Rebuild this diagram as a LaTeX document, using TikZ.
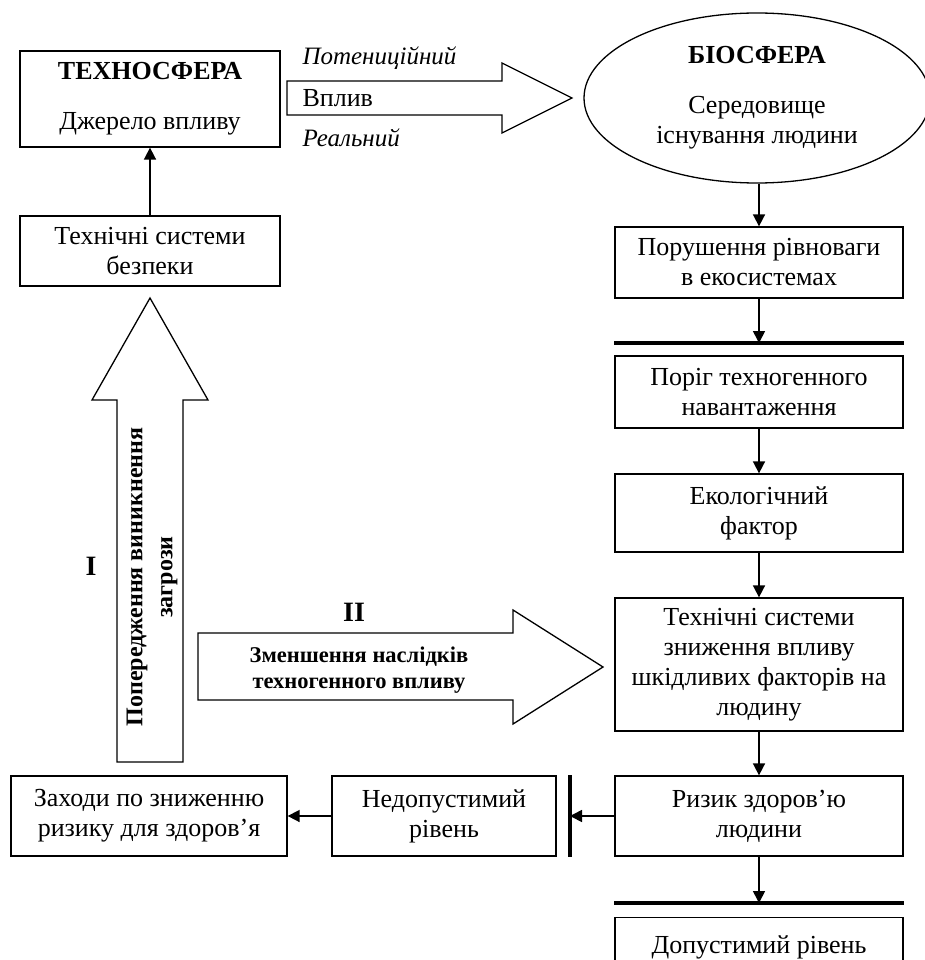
\documentclass[tikz,border=0pt]{standalone}
\usepackage{fontspec}
\setmainfont{Liberation Serif}
\usetikzlibrary{arrows.meta,shapes.geometric,positioning}

\begin{document}
\begin{tikzpicture}[x=1pt,y=-1pt,
  every node/.style={font=\fontsize{26}{30}\selectfont},
  blok/.style={draw,line width=1.3pt,align=center,inner sep=0pt,minimum width=#1},
  blok/.default=288pt,
  arr/.style={line width=1.7pt,-{Triangle[length=12pt,width=12pt]}},
  porog/.style={line width=4pt},
  strilka/.style={draw,line width=1.3pt,fill=white}]
\useasboundingbox (0,0) rectangle (925,960);

% left column
\node[blok=260pt,minimum height=96pt] (texno) at (150,99) {{\bfseries ТЕХНОСФЕРА}\\[20pt]Джерело впливу};
\node[blok=260pt,minimum height=70pt] (bezpeka) at (150,251) {Технічні системи\\безпеки};
\draw[arr] (bezpeka) -- (texno);

% right column
\node[draw,ellipse,line width=1.3pt,inner sep=0pt,align=center,minimum width=346pt,minimum height=170pt] (bio) at (757,98) {{\bfseries БІОСФЕРА}\\[20pt]Середовище\\існування людини};
\node[blok,minimum height=71pt] (porush) at (759,262.5) {Порушення рівноваги\\в екосистемах};
\node[blok,minimum height=72pt] (porig) at (759,392) {Поріг техногенного\\навантаження};
\node[blok,minimum height=78pt] (ekol) at (759,513) {Екологічний\\фактор};
\node[blok,minimum height=133pt] (znyzh) at (759,664.5) {Технічні системи\\зниження впливу\\шкідливих факторів на\\людину};
\node[blok,minimum height=80pt] (ryzyk) at (759,816) {Ризик здоров’ю\\людини};
\node[blok,minimum height=60pt,anchor=north] (dopust) at (759,917) {Допустимий рівень};

\coordinate (mezha1) at (759,343);
\coordinate (mezha2) at (759,903);
\coordinate (mezha3) at (570,816);
\draw[porog] (mezha1 -| porig.west) -- (mezha1 -| porig.east);
\draw[porog] (mezha2 -| ryzyk.west) -- (mezha2 -| ryzyk.east);
\draw[porog] (mezha3 |- ryzyk.north) -- (mezha3 |- ryzyk.south);

\draw[arr] (bio.south -| porush) -- (porush);
\draw[arr] (porush) -- (mezha1);
\foreach \a/\b in {porig/ekol,ekol/znyzh,znyzh/ryzyk}
  \draw[arr] (\a) -- (\b);
\draw[arr] (ryzyk) -- (mezha2);
\draw[arr] (ryzyk) -- (mezha3);

% bottom row
\node[blok=224pt,minimum height=80pt] (nedop) at (444,816) {Недопустимий\\рівень};
\node[blok=276pt,minimum height=80pt] (zahody) at (149,816) {Заходи по зниженню\\ризику для здоров’я};
\draw[arr] (nedop) -- (zahody);

% block arrows
\draw[strilka] (287,81) -- (502,81) -- (502,63) -- (572,98) -- (502,133) -- (502,115) -- (287,115) -- cycle;
\node[anchor=west] (vplyv) at (299,98) {Вплив};
\node[anchor=west,font=\fontsize{25}{28}\selectfont] (potents) at (299,58) {\itshape Потениційний};
\node[anchor=west,font=\fontsize{25}{28}\selectfont] (realn) at (299,138) {\itshape Реальний};

\draw[strilka] (117,762) -- (117,400) -- (92,400) -- (150,298) -- (208,400) -- (183,400) -- (183,762) -- cycle;
\node[rotate=90,align=center,font=\fontsize{24}{30}\selectfont] (poperedzh) at (152,577) {\bfseries Попередження виникнення\\\bfseries загрози};
\node[font=\fontsize{28}{30}\selectfont] (etap1) at (91,566) {\bfseries I};

\draw[strilka] (198,633) -- (513,633) -- (513,610) -- (603,667) -- (513,724) -- (513,700) -- (198,700) -- cycle;
\node[font=\fontsize{28}{30}\selectfont] (etap2) at (354,612) {\bfseries II};
\node[align=center,font=\fontsize{22.5}{26}\selectfont] (zmensh) at (359,670) {\bfseries Зменшення наслідків\\\bfseries техногенного впливу};
\end{tikzpicture}
\end{document}
